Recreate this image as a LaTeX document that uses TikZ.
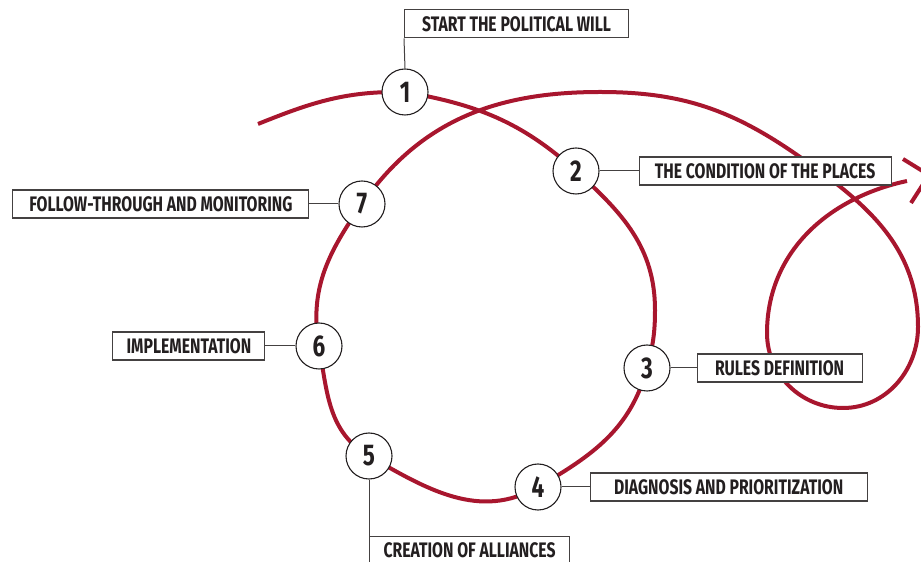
\documentclass[tikz,border=0pt]{standalone}
\usepackage{fontspec}
\setmainfont{Fira Sans}[FakeStretch=0.75]
\usetikzlibrary{positioning,backgrounds}
\definecolor{loopred}{RGB}{168,22,46}
\definecolor{ink}{RGB}{35,31,32}
\tikzset{
  num/.style={circle, draw=ink, line width=1.1pt, fill=white, minimum size=46pt,
    inner sep=0pt, text=ink, font=\fontsize{30}{30}\selectfont\bfseries},
  tag/.style={draw=ink!85, line width=1.1pt, fill=white, minimum height=28pt,
    inner xsep=0pt, inner ysep=0pt, text=ink, font=\fontsize{21}{21}\selectfont\bfseries},
  link/.style={draw=ink!85, line width=1pt},
  redline/.style={draw=loopred, line width=4pt},
}

\begin{document}
\begin{tikzpicture}[x=1pt,y=1pt]
\useasboundingbox (0,0) rectangle (921,562);

%Nodes
\node[num]  (n1)    at (405,470)    {1};
\node[num]  (n2)    at (576,391)    {2};
\node[num]  (n3)    at (647,194)    {3};
\node[num]  (n4)    at (538,75)     {4};
\node[num]  (n5)    at (369,106)    {5};
\node[num]  (n6)    at (319,216)    {6};
\node[num]  (n7)    at (362,358)    {7};

\node[tag, minimum width=224pt] (l1) [above right=30pt and -1pt of n1.north] {START THE POLITICAL WILL};
\node[tag, minimum width=252pt] (l2) [right=39pt of n2]  {THE CONDITION OF THE PLACES};
\node[tag, minimum width=165pt] (l3) [right=26pt of n3]  {RULES DEFINITION};
\node[tag, minimum width=277pt] (l4) [right=28pt of n4]  {DIAGNOSIS AND PRIORITIZATION};
\node[tag, minimum width=200pt] (l5) [below right=56pt and 0pt of n5.south] {CREATION OF ALLIANCES};
\node[tag, minimum width=152pt] (l6) [left=30pt of n6]   {IMPLEMENTATION};
\node[tag, minimum width=296pt] (l7) [left=29pt of n7]   {FOLLOW-THROUGH AND MONITORING};

%Lines
\draw[link] (n1.north) -- (l1.south west);
\draw[link] (n2.east)  -- (l2.west);
\draw[link] (n3.east)  -- (l3.west);
\draw[link] (n4.east)  -- (l4.west);
\draw[link] (n5.south) -- (l5.south west);
\draw[link] (n6.west)  -- (l6.east);
\draw[link] (n7.west)  -- (l7.east);

%Curve
\coordinate (start) at (258,438);
\coordinate (tip)   at (929,387);
\begin{pgfonlayer}{background}
\draw[redline] (start) to[out=22,in=179] (n1.center)
    to[out=-10,in=138] (n2.center)
    to[out=-42,in=90] (655,252)
    to[out=-90,in=75] (n3.center)
    to[out=-105,in=30] (n4.center)
    to[out=-150,in=-30] (n5.center)
    to[out=150,in=-80] (n6.center)
    to[out=100,in=-125] (n7.center)
    to[out=55,in=180] (600,470)
    to[out=0,in=145] (800,405)
    to[out=-35,in=90] (918,235)
    to[out=-90,in=0] (843,154)
    to[out=180,in=-90] (767,229)
    to[out=90,in=192] (907,381);
\draw[redline] ([shift={(-26,16)}]tip) -- (tip) -- ([shift={(-18,-28)}]tip);
\end{pgfonlayer}
\end{tikzpicture}
\end{document}
